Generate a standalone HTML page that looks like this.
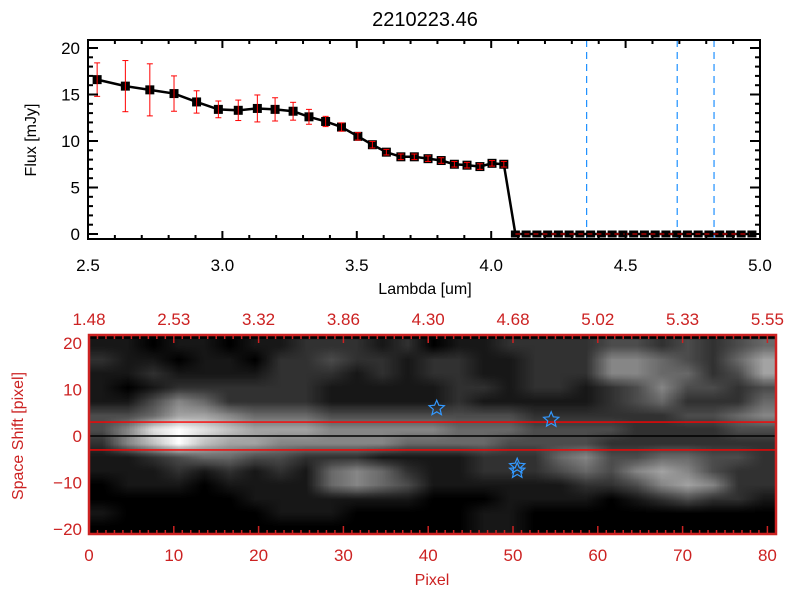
<!DOCTYPE html>
<html><head><meta charset="utf-8"><style>
body{margin:0;background:#fff;width:800px;height:600px;overflow:hidden}
svg{position:absolute;left:0;top:0}
canvas{position:absolute}
text{font-family:"Liberation Sans",sans-serif}
</style></head><body>
<canvas id="hm" width="687" height="199" style="left:89px;top:335px"></canvas>
<svg id="s" width="800" height="600"></svg>
<script>
// ---- top chart data ----
const lambdas=[2.534,2.639,2.73,2.82,2.904,2.985,3.059,3.13,3.196,3.263,3.322,3.384,3.443,3.504,3.558,3.61,3.664,3.714,3.765,3.814,3.863,3.91,3.958,4.003,4.047];
const flux=[16.6,15.9,15.5,15.1,14.2,13.4,13.3,13.5,13.4,13.2,12.6,12.1,11.5,10.5,9.6,8.8,8.3,8.3,8.1,7.9,7.5,7.4,7.25,7.6,7.5];
const fluxErr=[1.8,2.75,2.8,1.9,1.2,0.9,1.1,1.45,1.25,0.96,0.8,0.55,0.45,0.4,0.35,0.3,0.3,0.3,0.3,0.3,0.3,0.3,0.3,0.3,0.3];
const zeroLambdas=[4.09,4.13,4.17,4.21,4.25,4.29,4.33,4.37,4.41,4.45,4.49,4.53,4.57,4.61,4.65,4.69,4.73,4.77,4.81,4.85,4.89,4.93,4.97];
const vLines=[4.355,4.692,4.829];
const xTicks=["2.5","3.0","3.5","4.0","4.5","5.0"];
const yTicks=["0","5","10","15","20"];
// ---- bottom image data ----
const pixTicks=[0,10,20,30,40,50,60,70,80];
const lamTop=["1.48","2.53","3.32","3.86","4.30","4.68","5.02","5.33","5.55"];
const shiftTicks=[20,10,0,-10,-20];
const gridRows=[
"110110112221201122223323234",
"211011022322122112225543246",
"112111122212122112225544236",
"101222222111112212212353323",
"113542222111112111112342224",
"334665444333333332222223345",
"358987666555554443333222233",
"257976655555444433332222222",
"112344332221111222453344332",
"111212121454211222343565322",
"011101111454311111122356522",
"000000111111100011110123221",
"100000011100000110000000000",
"000000000000000110000000000"];
const starX=[41,54.5,50.5,50.5];
const starY=[6,3.5,-6.5,-7.5];

const S=document.getElementById('s');const NS='http://www.w3.org/2000/svg';
function el(t,a,txt,p){const e=document.createElementNS(NS,t);for(const k in a)e.setAttribute(k,a[k]);if(txt!=null)e.textContent=txt;(p||S).appendChild(e);return e;}
const L=88,R=760,T=40,B=239;
const xs=v=>L+(v-2.5)/2.5*(R-L);
const ys=v=>234-v*9.3;
const red='#cc2222';
let t=el('text',{x:425,y:26,'text-anchor':'middle','font-size':20});t.textContent='2210223.46';


vLines.forEach(v=>{const l=el('line',{x1:xs(v),x2:xs(v),y1:T,y2:B,stroke:'#1e90ff','stroke-width':1.2,'stroke-dasharray':'7,5'});

});
const allX=lambdas.concat(zeroLambdas),allY=flux.concat(zeroLambdas.map(()=>0));
let pl=el('polyline',{points:allX.map((x,i)=>xs(x)+','+ys(allY[i])).join(' '),fill:'none',stroke:'#000','stroke-width':2.5});


allX.forEach((x,i)=>{const h=allY[i]===0?7:9;const r=el('rect',{x:xs(x)-4.5,y:ys(allY[i])-h/2,width:9,height:h,fill:'#000'});

});
let zl=el('line',{x1:xs(zeroLambdas[0]),x2:R,y1:ys(0),y2:ys(0),stroke:'#f00','stroke-width':1,'stroke-dasharray':'5,4'});
lambdas.forEach((x,i)=>{const X=xs(x),y1=ys(flux[i]+fluxErr[i]),y2=ys(flux[i]-fluxErr[i]);
const g=el('g',{stroke:'#f00','stroke-width':1});


el('line',{x1:X,x2:X,y1:y1,y2:y2},null,g);el('line',{x1:X-3,x2:X+3,y1:y1,y2:y1},null,g);el('line',{x1:X-3,x2:X+3,y1:y2,y2:y2},null,g);});
el('rect',{x:L,y:T,width:R-L,height:B-T,fill:'none',stroke:'#000','stroke-width':2});
for(let v=2.5;v<=5.001;v+=0.1){const X=xs(v),mj=Math.abs(v*2-Math.round(v*2))<0.01;const h=mj?8:4;
el('line',{x1:X,x2:X,y1:B,y2:B-h,stroke:'#000','stroke-width':2});el('line',{x1:X,x2:X,y1:T,y2:T+h,stroke:'#000','stroke-width':2});}
for(let v=0;v<=20;v++){const Y=ys(v),h=v%5?5:10;el('line',{x1:L,x2:L+h,y1:Y,y2:Y,stroke:'#000','stroke-width':2});el('line',{x1:R,x2:R-h,y1:Y,y2:Y,stroke:'#000','stroke-width':2});}
xTicks.forEach(s=>{const e=el('text',{x:xs(+s),y:271,'text-anchor':'middle','font-size':17},s);

});
yTicks.forEach(s=>{const e=el('text',{x:80,y:ys(+s)+6,'text-anchor':'end','font-size':17},s);

});
t=el('text',{x:425,y:294,'text-anchor':'middle','font-size':16},'Lambda [um]');


t=el('text',{x:0,y:0,'text-anchor':'middle','font-size':16,transform:'translate(36,140) rotate(-90)'},'Flux [mJy]');



const BL=89,BR=776,BT=335,BB=534;
const px=v=>BL+v*8.48;
const py=v=>436-v*4.64;
const cv=document.createElement('canvas');cv.width=27;cv.height=14;const c=cv.getContext('2d');
const img=c.createImageData(27,14);
gridRows.forEach((row,r)=>{for(let i=0;i<27;i++){const v=+row[i]/9;const g=Math.round(255*Math.pow(v,1.1));const k=(r*27+i)*4;img.data[k]=img.data[k+1]=img.data[k+2]=g;img.data[k+3]=255;}});
c.putImageData(img,0,0);
const H=document.getElementById('hm').getContext('2d');
H.fillStyle='#000';H.fillRect(0,0,687,199);
H.imageSmoothingEnabled=true;
H.drawImage(cv,0,0,27,14,0,py(21)-BT,687,py(-21)-py(21));
el('line',{x1:BL,x2:BR,y1:py(0),y2:py(0),stroke:'#000','stroke-width':1.5});
el('line',{x1:BL,x2:BR,y1:py(3),y2:py(3),stroke:'#f00','stroke-width':1.3});
el('line',{x1:BL,x2:BR,y1:py(-3),y2:py(-3),stroke:'#f00','stroke-width':1.3});
function star(cx,cy,r){let p=[];for(let i=0;i<10;i++){const a=-Math.PI/2+i*Math.PI/5,rr=i%2?r*0.45:r;p.push((cx+rr*Math.cos(a)).toFixed(1)+','+(cy+rr*Math.sin(a)).toFixed(1));}return p.join(' ');}
starX.forEach((x,i)=>{const s=el('polygon',{points:star(px(x),py(starY[i]),8),fill:'none',stroke:'#3399ff','stroke-width':1.2});

});
el('rect',{x:BL,y:BT,width:BR-BL,height:BB-BT,fill:'none',stroke:red,'stroke-width':2.5});
for(let v=0;v<=81;v++){const X=px(v),h=v%10?4:8;el('line',{x1:X,x2:X,y1:BB,y2:BB-h,stroke:red,'stroke-width':1.5});el('line',{x1:X,x2:X,y1:BT,y2:BT+h,stroke:red,'stroke-width':1.5});}
pixTicks.forEach((v,i)=>{let e=el('text',{x:px(v),y:561,'text-anchor':'middle','font-size':17,fill:red},String(v));


e=el('text',{x:px(v),y:325,'text-anchor':'middle','font-size':17,fill:red},lamTop[i]);

});
shiftTicks.forEach(v=>{const e=el('text',{x:82,y:py(v)+6,'text-anchor':'end','font-size':17,fill:red},String(v).replace('-','\u2212'));

});
t=el('text',{x:432,y:585,'text-anchor':'middle','font-size':16,fill:red},'Pixel');


t=el('text',{x:0,y:0,'text-anchor':'middle','font-size':16,fill:red,transform:'translate(23,436) rotate(-90)'},'Space Shift [pixel]');


</script>
</body></html>
